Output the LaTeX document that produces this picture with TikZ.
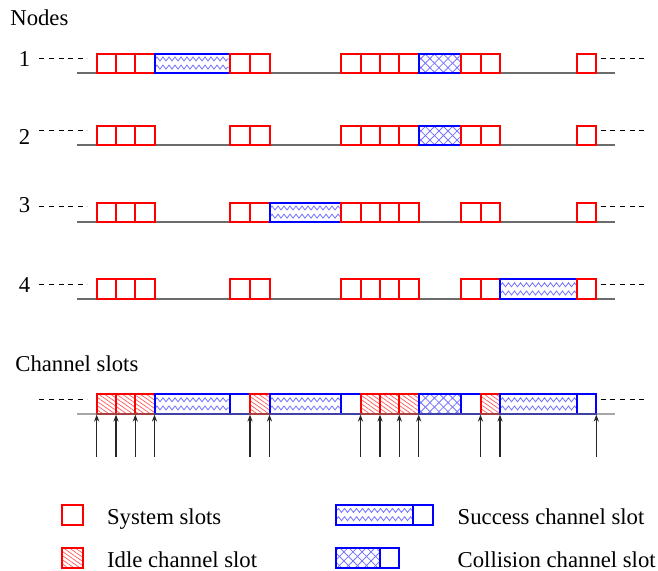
\documentclass[tikz,border=0pt]{standalone}
\usepackage{fontspec}
\setmainfont{Liberation Serif}
\usetikzlibrary{patterns.meta}
\usetikzlibrary{decorations.pathmorphing}
\usetikzlibrary{arrows.meta}
\tikzset{
  base/.style={gray!85!black, line width=0.75pt},
  dashline/.style={black, line width=0.5pt, dash pattern=on 2.5pt off 2.3pt},
  lbl/.style={anchor=base west, inner sep=0pt},
  num/.style={anchor=base east, inner sep=0pt},
  tick/.style={black!85, line width=0.55pt, -{Stealth[length=3.5pt, width=2.6pt]}},
  zz/.style={blue!55, line width=0.4pt, decorate, decoration={zigzag, segment length=3pt, amplitude=1pt}}
}
\newcommand{\sysslot}[4]{ \draw[red, line width=1pt] ( #1 , #2 ) rectangle ( #3 , #4 );}
\newcommand{\emptyslot}[4]{ \draw[blue, line width=1pt] ( #1 , #2 ) rectangle ( #3 , #4 );}
\newcommand{\idleslot}[4]{ \fill[pattern={Lines[angle=-35, distance=1.7pt, line width=0.35pt]}, pattern color=red!65] ( #1 , #2 ) rectangle ( #3 , #4 ); \draw[red, line width=1pt] ( #1 , #2 ) rectangle ( #3 , #4 );}
\newcommand{\succslot}[4]{ \draw[zz] ( #1 + 1 , #2 * 0.72 + #4 * 0.28 ) -- ( #3 - 1 , #2 * 0.72 + #4 * 0.28 ); \draw[zz] ( #1 + 1 , #2 * 0.3 + #4 * 0.7 ) -- ( #3 - 1 , #2 * 0.3 + #4 * 0.7 ); \draw[blue, line width=1pt] ( #1 , #2 ) rectangle ( #3 , #4 );}
\newcommand{\collslot}[4]{ \fill[pattern={Lines[angle=45, distance=3.2pt, line width=0.4pt]}, pattern color=blue!55] ( #1 , #2 ) rectangle ( #3 , #4 ); \fill[pattern={Lines[angle=-45, distance=3.2pt, line width=0.4pt]}, pattern color=blue!55] ( #1 , #2 ) rectangle ( #3 , #4 ); \draw[blue, line width=1pt] ( #1 , #2 ) rectangle ( #3 , #4 );}

\begin{document}
\begin{tikzpicture}[x=0.5pt, y=-0.5pt, font=\fontsize{11.35}{13.6}\selectfont]
        \useasboundingbox (0,0) rectangle (658,570);
        \node[lbl] (nodes) at (10,25) {Nodes};
        % row1
        \draw[base] (77.3,73) -- (615,73);
        \draw[dashline] (39.3,58.3) -- (87.3,58.3);
        \draw[dashline] (600.7,58.3) -- (648,58.3);
        \node[num] (n1) at (30.5,66.7) {1};
        \sysslot{96.7}{53.5}{116}{73}
        \sysslot{116}{53.5}{135.3}{73}
        \sysslot{135.3}{53.5}{154.5}{73}
        \succslot{154.5}{53.5}{230.3}{73}
        \sysslot{230.3}{53.5}{250}{73}
        \sysslot{250}{53.5}{269.5}{73}
        \sysslot{341}{53.5}{360.5}{73}
        \sysslot{360.5}{53.5}{380}{73}
        \sysslot{380}{53.5}{399.3}{73}
        \sysslot{399.3}{53.5}{418.7}{73}
        \collslot{418.7}{53.5}{460.7}{73}
        \sysslot{460.7}{53.5}{480.5}{73}
        \sysslot{480.5}{53.5}{500}{73}
        \sysslot{577}{53.5}{596.3}{73}
        % row2
        \draw[base] (77.3,145.2) -- (615,145.2);
        \draw[dashline] (39.3,130) -- (87.3,130);
        \draw[dashline] (600.7,130) -- (648,130);
        \node[num] (n2) at (30.5,144) {2};
        \sysslot{96.7}{125.7}{116}{145.2}
        \sysslot{116}{125.7}{135.3}{145.2}
        \sysslot{135.3}{125.7}{154.5}{145.2}
        \sysslot{230.3}{125.7}{250}{145.2}
        \sysslot{250}{125.7}{269.5}{145.2}
        \sysslot{341}{125.7}{360.5}{145.2}
        \sysslot{360.5}{125.7}{380}{145.2}
        \sysslot{380}{125.7}{399.3}{145.2}
        \sysslot{399.3}{125.7}{418.7}{145.2}
        \collslot{418.7}{125.7}{460.7}{145.2}
        \sysslot{460.7}{125.7}{480.5}{145.2}
        \sysslot{480.5}{125.7}{500}{145.2}
        \sysslot{577}{125.7}{596.3}{145.2}
        % row3
        \draw[base] (77.3,222) -- (615,222);
        \draw[dashline] (39.3,206.7) -- (87.3,206.7);
        \draw[dashline] (600.7,206.7) -- (648,206.7);
        \node[num] (n3) at (30.5,212.7) {3};
        \sysslot{96.7}{202.5}{116}{222}
        \sysslot{116}{202.5}{135.3}{222}
        \sysslot{135.3}{202.5}{154.5}{222}
        \sysslot{230.3}{202.5}{250}{222}
        \sysslot{250}{202.5}{269.5}{222}
        \succslot{269.5}{202.5}{341}{222}
        \sysslot{341}{202.5}{360.5}{222}
        \sysslot{360.5}{202.5}{380}{222}
        \sysslot{380}{202.5}{399.3}{222}
        \sysslot{399.3}{202.5}{418.7}{222}
        \sysslot{460.7}{202.5}{480.5}{222}
        \sysslot{480.5}{202.5}{500}{222}
        \sysslot{577}{202.5}{596.3}{222}
        % row4
        \draw[base] (77.3,298.8) -- (615,298.8);
        \draw[dashline] (39.3,284) -- (87.3,284);
        \draw[dashline] (600.7,284) -- (648,284);
        \node[num] (n4) at (30.5,292.7) {4};
        \sysslot{96.7}{279.3}{116}{298.8}
        \sysslot{116}{279.3}{135.3}{298.8}
        \sysslot{135.3}{279.3}{154.5}{298.8}
        \sysslot{230.3}{279.3}{250}{298.8}
        \sysslot{250}{279.3}{269.5}{298.8}
        \sysslot{341}{279.3}{360.5}{298.8}
        \sysslot{360.5}{279.3}{380}{298.8}
        \sysslot{380}{279.3}{399.3}{298.8}
        \sysslot{399.3}{279.3}{418.7}{298.8}
        \sysslot{460.7}{279.3}{480.5}{298.8}
        \sysslot{480.5}{279.3}{500}{298.8}
        \succslot{500}{279.3}{577}{298.8}
        \sysslot{577}{279.3}{596.3}{298.8}
        % channel
        \node[lbl] (chan) at (15,371.7) {Channel slots};
        \draw[dashline] (39.3,399) -- (87.3,399);
        \draw[dashline] (600.7,399) -- (648,399);
        \idleslot{96.7}{394.3}{116}{413.8}
        \idleslot{116}{394.3}{135.3}{413.8}
        \idleslot{135.3}{394.3}{154.5}{413.8}
        \succslot{154.5}{394.3}{230.3}{413.8}
        \emptyslot{230.3}{394.3}{250}{413.8}
        \idleslot{250}{394.3}{269.5}{413.8}
        \succslot{269.5}{394.3}{341}{413.8}
        \emptyslot{341}{394.3}{360.5}{413.8}
        \idleslot{360.5}{394.3}{380}{413.8}
        \idleslot{380}{394.3}{399.3}{413.8}
        \idleslot{399.3}{394.3}{418.7}{413.8}
        \collslot{418.7}{394.3}{460.7}{413.8}
        \emptyslot{460.7}{394.3}{480.5}{413.8}
        \idleslot{480.5}{394.3}{500}{413.8}
        \succslot{500}{394.3}{577}{413.8}
        \emptyslot{577}{394.3}{596.3}{413.8}
        \draw[base, opacity=0.6] (77.3,413.8) -- (615,413.8);
        \foreach \x in {96.7,116,135.3,154.5,250,269.5,360.5,380,399.3,418.7,480.5,500,596.3}
          \draw[tick] (\x,457) -- (\x,414.6);
        % legend
        \sysslot{62.3}{505}{82.7}{524.5}
        \node[lbl] (sys) at (106.7,524.3) {System slots};
        \idleslot{62.3}{548}{82.7}{567.5}
        \node[lbl] (idle) at (106.7,567.3) {Idle channel slot};
        \succslot{336}{505}{413.3}{524.5}
        \emptyslot{413.3}{505}{433.3}{524.5}
        \node[lbl] (succ) at (457.3,524.3) {Success channel slot};
        \collslot{336}{548}{380}{567.5}
        \emptyslot{380}{548}{399.3}{567.5}
        \node[lbl] (coll) at (457.3,567.3) {Collision channel slot};
    \end{tikzpicture}
\end{document}
